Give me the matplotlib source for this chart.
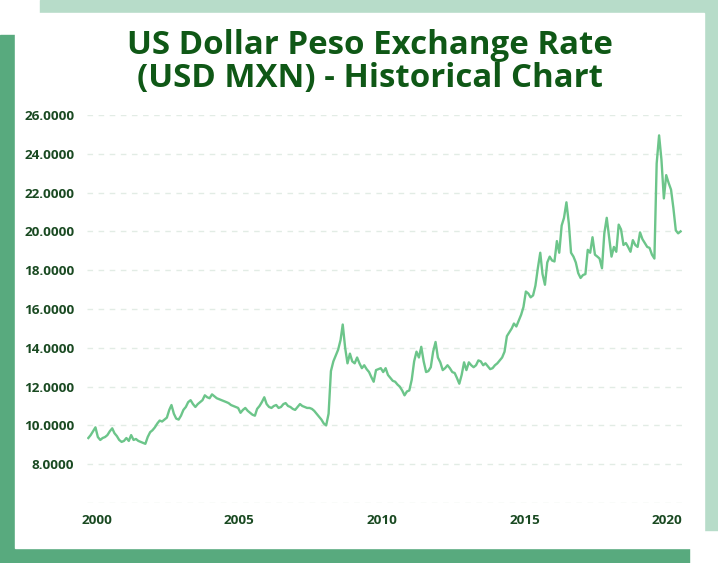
import numpy as np
import pandas as pd
import matplotlib
matplotlib.use("Agg")
import matplotlib.pyplot as plt
from matplotlib.patches import Rectangle

# monthly USD/MXN values, starting April 2000
start = "2000-04-01"
rate = [
    # 2000 (Apr-Dec)
    9.35, 9.5, 9.7, 9.9, 9.4, 9.25, 9.35, 9.4, 9.5,
    # 2001
    9.7, 9.85, 9.6, 9.45, 9.25, 9.15, 9.2, 9.35, 9.2, 9.5, 9.25, 9.3,
    # 2002
    9.2, 9.15, 9.1, 9.05, 9.4, 9.65, 9.75, 9.9, 10.1, 10.25, 10.2, 10.3,
    # 2003
    10.4, 10.8, 11.05, 10.6, 10.35, 10.3, 10.5, 10.8, 10.95, 11.2, 11.3, 11.1,
    # 2004
    10.95, 11.1, 11.2, 11.3, 11.55, 11.45, 11.4, 11.6, 11.5, 11.4, 11.35, 11.3,
    # 2005
    11.25, 11.2, 11.15, 11.05, 11.0, 10.95, 10.9, 10.65, 10.8, 10.9, 10.75, 10.65,
    # 2006
    10.55, 10.5, 10.85, 11.0, 11.2, 11.45, 11.1, 10.95, 10.9, 11.0, 11.05, 10.9,
    # 2007
    10.95, 11.1, 11.15, 11.0, 10.95, 10.85, 10.8, 10.95, 11.1, 11.0, 10.95, 10.9,
    # 2008
    10.9, 10.85, 10.75, 10.6, 10.45, 10.3, 10.1, 10.0, 10.6, 12.8, 13.3, 13.6,
    # 2009
    13.9, 14.4, 15.2, 14.0, 13.2, 13.7, 13.3, 13.2, 13.5, 13.2, 12.95, 13.1,
    # 2010
    12.9, 12.75, 12.5, 12.25, 12.85, 12.9, 12.95, 12.75, 12.95, 12.6, 12.45, 12.3,
    # 2011
    12.25, 12.1, 12.0, 11.8, 11.55, 11.75, 11.8, 12.35, 13.3, 13.8, 13.5, 14.05,
    # 2012
    13.3, 12.75, 12.8, 13.0, 13.8, 14.3, 13.5, 13.25, 12.85, 12.95, 13.1, 12.95,
    # 2013
    12.75, 12.7, 12.45, 12.15, 12.6, 13.25, 12.85, 13.25, 13.1, 13.0, 13.1, 13.35,
    # 2014
    13.3, 13.1, 13.2, 13.05, 12.9, 12.95, 13.1, 13.2, 13.35, 13.5, 13.8, 14.6,
    # 2015
    14.8, 15.0, 15.25, 15.1, 15.4, 15.7, 16.1, 16.9, 16.8, 16.6, 16.7, 17.2,
    # 2016
    18.1, 18.9, 17.8, 17.25, 18.4, 18.7, 18.5, 18.45, 19.5, 18.9, 20.3, 20.7,
    # 2017
    21.5, 20.4, 18.9, 18.7, 18.4, 17.85, 17.6, 17.75, 17.8, 19.05, 18.9, 19.7,
    # 2018
    18.8, 18.7, 18.6, 18.1, 19.9, 20.7, 19.7, 18.7, 19.2, 18.95, 20.35, 20.1,
    # 2019
    19.3, 19.4, 19.2, 18.95, 19.55, 19.3, 19.2, 19.95, 19.6, 19.4, 19.2, 19.15,
    # 2020
    18.8, 18.6, 23.5, 24.95, 23.7, 21.7, 22.9, 22.5, 22.15, 21.2, 20.05, 19.9,
    # 2021
    20.0,
]
tick_years = [2000, 2005, 2010, 2015, 2020]
y_ticks = [8, 10, 12, 14, 16, 18, 20, 22, 24, 26]

dates = pd.date_range(start, periods=len(rate), freq="MS")

W, H = 718, 563
fig = plt.figure(figsize=(W / 100, H / 100), dpi=100)
fig.patch.set_facecolor("white")

def px_rect(x0, y0, x1, y1, color, z):
    # rectangle given in picture pixels (origin top-left)
    fig.patches.append(Rectangle((x0 / W, 1 - y1 / H), (x1 - x0) / W, (y1 - y0) / H,
                                 transform=fig.transFigure, color=color, zorder=z))

px_rect(40, 0, 718, 530, "#b7dcc9", 0)
px_rect(0, 35, 689, 563, "#58aa7e", 1)
px_rect(15, 13, 704, 548, "white", 2)

ax = fig.add_axes([87 / W, 1 - 503 / H, 596 / W, 388 / H])
ax.set_zorder(3)
ax.patch.set_alpha(0)

ax.plot(dates, rate, color="#6cc58a", lw=1.7, zorder=3)

ax.set_ylim(6, 26)
ax.set_xlim(pd.Timestamp("2000-03-15"), pd.Timestamp("2021-02-01"))
for v in range(6, 27, 2):
    ax.axhline(v, color="#e2ece5", lw=1, ls=(0, (4, 4)), zorder=1)

ax.set_yticks(y_ticks)
ax.set_yticklabels([f"{v:.4f}" for v in y_ticks])
ax.set_xticks([pd.Timestamp(f"{y}-07-15") for y in tick_years])
ax.set_xticklabels([str(y) for y in tick_years])
ax.tick_params(length=0, colors="#1a4a22", labelsize=9.7)
ax.tick_params(axis="y", pad=9)
ax.tick_params(axis="x", pad=8)
for lab in ax.get_xticklabels() + ax.get_yticklabels():
    lab.set_fontfamily("Open Sans")
    lab.set_fontweight("bold")
for s in ax.spines.values():
    s.set_visible(False)

fig.text(370 / W, 1 - 45 / H, "US Dollar Peso Exchange Rate", ha="center", va="center",
         fontsize=23.8, fontweight="bold", family="Open Sans", color="#0f5816", zorder=5)
fig.text(370 / W, 1 - 78 / H, "(USD MXN) - Historical Chart", ha="center", va="center",
         fontsize=23.8, fontweight="bold", family="Open Sans", color="#0f5816", zorder=5)

fig.savefig("out.png", dpi=100)
